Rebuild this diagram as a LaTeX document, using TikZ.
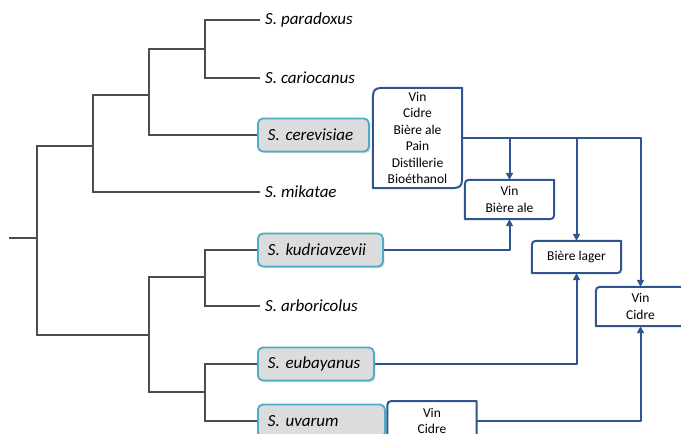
\documentclass[tikz,border=0pt]{standalone}
\usepackage{fontspec}
\setmainfont{Carlito}
\usetikzlibrary{arrows.meta,shadows}
\definecolor{treegray}{HTML}{4D4D4D}
\definecolor{flowblue}{HTML}{2F5590}
\definecolor{leafrim}{HTML}{4BACC6}
\definecolor{leaffill}{HTML}{DCDCDC}
\tikzset{
  treeline/.style={draw=treegray,line width=1.4pt},
  flowline/.style={draw=flowblue,line width=2pt,line join=round},
  flowarrow/.style={flowline,-{Triangle[length=7pt,width=7pt]}},
  leaf/.style={anchor=west,inner xsep=5pt,font=\fontsize{17}{20}\selectfont\itshape},
  hlleaf/.style={leaf,inner xsep=10pt,minimum height=33pt,align=left,
    fill=leaffill,draw=leafrim,line width=1.8pt,rounded corners=5pt,
    drop shadow={opacity=0.35,shadow xshift=1.5pt,shadow yshift=-1.5pt}},
  usage/.style={align=center,inner sep=0pt,minimum width=89pt,
    font=\fontsize{13.5}{16.5}\selectfont}
}
% frame with two rounded corners (top left, bottom right)
\newcommand\usageframe[2]{%
  \draw[flowline] (#1.south west) -- ([yshift=-#2]#1.north west)
    .. controls (#1.north west) .. ([xshift=#2]#1.north west)
    -- (#1.north east) -- ([yshift=#2]#1.south east)
    .. controls (#1.south east) .. ([xshift=-#2]#1.south east) -- cycle;}

\begin{document}
\begin{tikzpicture}[x=1pt,y=-1pt]
\useasboundingbox (0,0) rectangle (681,434);
\clip (0,0) rectangle (681,434);

% branching points
\coordinate (root) at (9,238);
\coordinate (n0) at (37,238);
\coordinate (n1) at (93,146);
\coordinate (n2) at (149,95);
\coordinate (n3) at (205,49);
\coordinate (n4) at (149,335);
\coordinate (n5) at (205,277);
\coordinate (n6) at (205,392);

% species
\node[leaf] (paradoxus) at (260,20) {S. paradoxus};
\node[leaf] (cariocanus) at (260,78) {S. cariocanus};
\node[hlleaf,text width=91pt] (cerevisiae) at (257,135) {S. cerevisiae};
\node[leaf] (mikatae) at (260,192) {S. mikatae};
\node[hlleaf,text width=105pt] (kudriavzevii) at (257,250) {S. kudriavzevii};
\node[leaf] (arboricolus) at (260,306) {S. arboricolus};
\node[hlleaf,text width=96pt] (eubayanus) at (257,364) {S. eubayanus};
\node[hlleaf,text width=107pt] (uvarum) at (257,421) {S. uvarum};

\draw[treeline] (root) -- (n0);
\draw[treeline] (n0) |- (n1);
\draw[treeline] (n0) |- (n4);
\draw[treeline] (n1) |- (n2);
\draw[treeline] (n1) |- (mikatae.west);
\draw[treeline] (n2) |- (n3);
\draw[treeline] (n2) |- (cerevisiae.west);
\draw[treeline] (n3) |- (paradoxus.west);
\draw[treeline] (n3) |- (cariocanus.west);
\draw[treeline] (n4) |- (n5);
\draw[treeline] (n4) |- (n6);
\draw[treeline] (n5) |- (kudriavzevii.west);
\draw[treeline] (n5) |- (arboricolus.west);
\draw[treeline] (n6) |- (eubayanus.west);
\draw[treeline] (n6) |- (uvarum.west);

% uses
\node[usage,minimum height=100pt] (usesCer) at (417.5,138)
  {Vin\\Cidre\\Bière ale\\Pain\\Distillerie\\Bioéthanol};
\node[usage,minimum height=39pt] (usesAle) at (509.5,199.5) {Vin\\Bière ale};
\node[usage,minimum height=32pt] (usesLager) at (576.5,257) {Bière lager};
\node[usage,minimum height=39pt] (usesWine) at (640.5,306.5) {Vin\\Cidre};
\node[usage,minimum height=39pt,anchor=north] (usesUva) at (432,401) {Vin\\Cidre};
\usageframe{usesCer}{17pt}
\usageframe{usesAle}{9pt}
\usageframe{usesLager}{9pt}
\usageframe{usesWine}{9pt}
\usageframe{usesUva}{9pt}

\draw[flowarrow] (usesCer.east) -| (usesWine.north);
\draw[flowarrow] (usesCer.east -| usesAle.north) -- (usesAle.north);
\draw[flowarrow] (usesCer.east -| usesLager.north) -- (usesLager.north);
\draw[flowarrow] (kudriavzevii.east) -| (usesAle.south);
\draw[flowarrow] (eubayanus.east) -| (usesLager.south);
\draw[flowarrow] (usesUva.east) -| (usesWine.south);
\end{tikzpicture}
\end{document}
